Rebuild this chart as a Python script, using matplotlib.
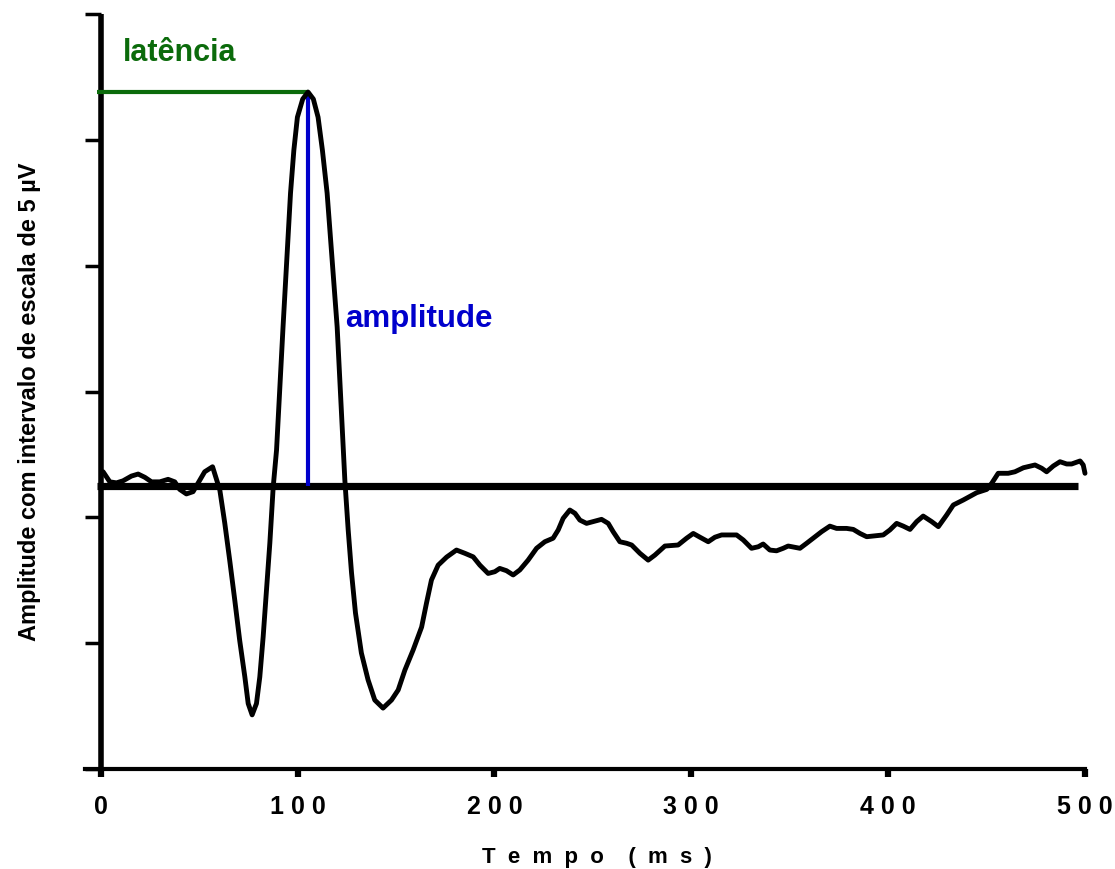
import matplotlib
matplotlib.use("Agg")
import matplotlib.pyplot as plt

plt.rcParams['font.family'] = ['Liberation Sans', 'DejaVu Sans']

# waveform (tempo em ms, amplitude in scale units)
tempo = [1.2, 4.6, 8.0, 11.3, 15.6, 19.0, 22.4, 25.8, 30.0, 34.2, 37.6, 40.1, 43.5,
         46.9, 50.3, 52.8, 56.8, 60.5, 63.0, 65.5, 68.1, 70.6, 73.2, 74.9, 76.9,
         79.1, 80.8, 82.5, 84.2, 85.9, 87.6, 89.3, 92.6, 96.4, 98.1, 99.9, 102.6,
         105.3, 108.0, 110.4, 112.6, 115.0, 120.1, 124.0, 125.7, 127.4, 129.4,
         132.4, 135.8, 139.2, 143.4, 147.7, 151.1, 154.5, 158.7, 163.0, 165.5,
         168.0, 171.4, 175.7, 180.7, 185.0, 189.2, 192.6, 196.8, 200.2, 202.7,
         206.1, 209.5, 212.9, 217.1, 221.4, 225.6, 229.8, 232.4, 234.9, 238.3,
         240.9, 243.4, 246.8, 250.2, 254.4, 257.8, 260.3, 263.7, 267.1, 269.7,
         273.9, 278.1, 281.5, 286.6, 293.3, 297.6, 301.0, 304.4, 308.6, 312.0,
         315.4, 323.0, 326.4, 330.6, 334.0, 336.5, 339.9, 343.3, 346.7, 349.2,
         352.6, 355.2, 358.6, 361.9, 366.2, 370.4, 373.8, 378.9, 382.3, 385.7,
         389.1, 397.5, 400.9, 404.3, 407.7, 411.1, 414.5, 417.8, 422.1, 425.5,
         429.7, 433.1, 438.2, 445.0, 450.1, 452.6, 455.9, 461.0, 464.4, 468.7,
         474.6, 478.0, 480.5, 483.9, 487.3, 490.7, 493.2, 497.5, 499.1, 500.0]
amplitude = [11.81, 11.41, 11.37, 11.45, 11.64, 11.72, 11.59, 11.41, 11.41, 11.51,
             11.41, 11.11, 10.93, 11.02, 11.48, 11.81, 12.01, 11.08, 9.77, 8.30,
             6.70, 5.10, 3.66, 2.60, 2.15, 2.60, 3.66, 5.25, 7.10, 8.98, 11.20,
             12.67, 17.56, 22.88, 24.59, 25.90, 26.62, 26.90, 26.62, 25.90, 24.59,
             22.88, 17.56, 11.48, 9.50, 7.79, 6.20, 4.61, 3.54, 2.74, 2.42, 2.74,
             3.14, 3.93, 4.73, 5.64, 6.60, 7.51, 8.10, 8.42, 8.70, 8.57, 8.43, 8.10,
             7.77, 7.84, 7.97, 7.88, 7.71, 7.91, 8.30, 8.77, 9.03, 9.17, 9.50, 9.96,
             10.29, 10.16, 9.89, 9.76, 9.83, 9.92, 9.76, 9.43, 9.03, 8.97, 8.90,
             8.57, 8.30, 8.50, 8.86, 8.90, 9.17, 9.36, 9.21, 9.03, 9.21, 9.30, 9.30,
             9.10, 8.77, 8.83, 8.94, 8.70, 8.67, 8.77, 8.86, 8.81, 8.77, 8.97, 9.17,
             9.43, 9.65, 9.56, 9.56, 9.52, 9.36, 9.23, 9.30, 9.50, 9.76, 9.65, 9.52,
             9.83, 10.05, 9.83, 9.63, 10.09, 10.49, 10.69, 10.98, 11.11, 11.35,
             11.75, 11.75, 11.81, 11.97, 12.08, 11.95, 11.81, 12.04, 12.21, 12.12,
             12.12, 12.24, 12.08, 11.75]

linha_base = 11.24
base_inicio, base_fim = -2, 496.5
pico_t, pico_v = 105.3, 26.9

x_ticks = [0, 100, 200, 300, 400, 500]
x_labels = ['0', '1 0 0', '2 0 0', '3 0 0', '4 0 0', '5 0 0']
y_ticks = [0, 5, 10, 15, 20, 25, 30]

fig = plt.figure(figsize=(11.15, 8.69), dpi=100)
ax = fig.add_axes([85 / 1115, 100 / 869, 1000 / 1115, 755 / 869])

ax.plot([base_inicio, base_fim], [linha_base, linha_base], color='black', lw=5.2,
        solid_capstyle='butt', zorder=2)
ax.plot([-2, pico_t], [pico_v, pico_v], color='#0b6b0b', lw=3, solid_capstyle='butt',
        zorder=3, clip_on=False)
ax.plot([pico_t, pico_t], [linha_base, pico_v], color='#0000cc', lw=3,
        solid_capstyle='butt', zorder=3)
ax.plot(tempo, amplitude, color='black', lw=3.5, solid_joinstyle='round',
        solid_capstyle='round', zorder=4, clip_on=False)

ax.text(11, 28.45, 'latência', color='#0b6b0b', fontsize=22, fontweight='bold',
        ha='left', va='center')
ax.text(124, 17.87, 'amplitude', color='#0000cc', fontsize=22.5, fontweight='bold',
        ha='left', va='center')

ax.set_xlim(-8, 500)
ax.set_ylim(0, 30)
ax.spines['top'].set_visible(False)
ax.spines['right'].set_visible(False)
ax.spines['left'].set_position(('data', 0))
ax.spines['left'].set_linewidth(4)
ax.spines['bottom'].set_linewidth(3)
ax.spines['left'].set_capstyle('butt')

ax.set_xticks(x_ticks)
ax.set_xticklabels(x_labels, fontsize=18, fontweight='bold')
ax.set_yticks(y_ticks)
ax.set_yticklabels([])
ax.tick_params(axis='x', direction='out', length=6, width=4.5, pad=13)
ax.tick_params(axis='y', direction='out', length=11.5, width=2.5)

fig.text(597 / 1115, 1 - 857 / 869, 'T  e  m  p  o    (  m  s  )', fontsize=16,
         fontweight='bold', ha='center', va='center')
fig.text(30 / 1115, 1 - 402 / 869, 'Amplitude com intervalo de escala de 5 µV',
         fontsize=17, fontweight='bold', rotation=90, ha='center', va='center')

fig.savefig('out.png', dpi=100)
